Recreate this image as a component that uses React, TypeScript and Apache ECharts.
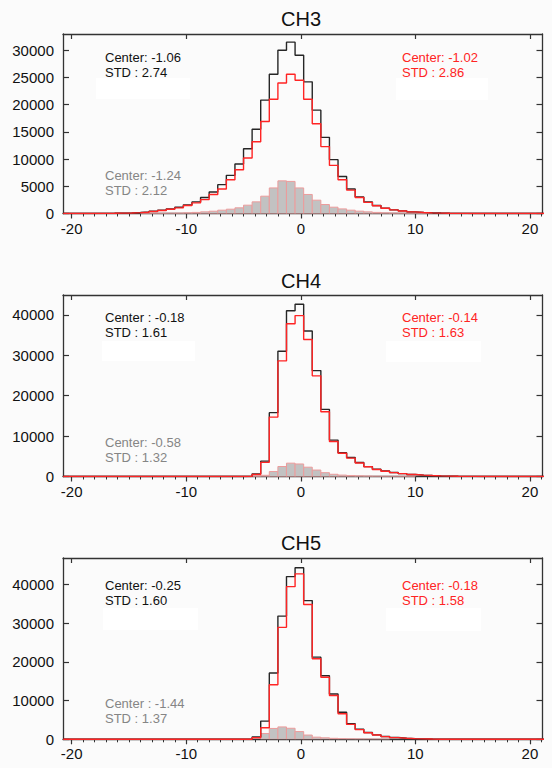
import React, { useEffect, useRef } from "react";
import * as echarts from "echarts";

// Histogram bins: left edge of first bin and bin width (x units)
const binStart = -20.75;
const binWidth = 0.75;

const channels = ["CH3", "CH4", "CH5"];

// CH3
const ch3Black = [
  0, 5, 10, 15, 25, 40, 70, 110, 180, 300,
  430, 610, 850, 1160, 1590, 2130, 2930, 3960, 5300, 7010,
  9090, 11900, 15500, 20850, 25600, 30000, 31500, 29100, 24200, 19000,
  14000, 9900, 6800, 4500, 3050, 2130, 1460, 980, 670, 490,
  300, 200, 130, 80, 50, 30, 20, 10, 5, 5,
  0, 0, 0, 0, 0, 0,
];
const ch3Red = [
  0, 0, 5, 10, 20, 35, 60, 100, 160, 240,
  370, 550, 790, 1040, 1460, 1950, 2560, 3480, 4500, 6200,
  8050, 10200, 13200, 16900, 21000, 24000, 25600, 24500, 21000, 16500,
  12300, 8840, 6200, 4300, 2950, 2050, 1420, 960, 660, 470,
  300, 190, 120, 75, 45, 25, 15, 10, 5, 0,
  0, 0, 0, 0, 0, 0,
];
const ch3Gray = [
  0, 0, 0, 0, 0, 0, 0, 0, 0, 10,
  20, 30, 50, 80, 130, 200, 300, 420, 610, 790,
  1040, 1530, 2140, 3180, 4700, 6000, 5900, 4700, 3500, 2450,
  1650, 1160, 850, 610, 430, 300, 200, 130, 80, 50,
  30, 20, 10, 0, 0, 0, 0, 0, 0, 0,
  0, 0, 0, 0, 0, 0,
];

// CH4
const ch4Black = [
  0, 0, 0, 0, 0, 0, 0, 0, 0, 0,
  0, 0, 0, 0, 0, 0, 0, 0, 0, 0,
  0, 30, 650, 3800, 15800, 31000, 41000, 42600, 36000, 26200,
  16600, 9000, 5900, 4700, 3450, 2450, 1800, 1350, 980, 720,
  500, 340, 240, 160, 100, 60, 40, 20, 10, 5,
  0, 0, 0, 0, 0, 0,
];
const ch4Red = [
  0, 0, 0, 0, 0, 0, 0, 0, 0, 0,
  0, 0, 0, 0, 0, 0, 0, 0, 0, 0,
  0, 20, 500, 3500, 14700, 28600, 37800, 39800, 33900, 24900,
  16000, 8650, 5750, 4550, 3350, 2400, 1750, 1300, 950, 700,
  490, 330, 230, 150, 100, 60, 40, 20, 10, 5,
  0, 0, 0, 0, 0, 0,
];
const ch4Gray = [
  0, 0, 0, 0, 0, 0, 0, 0, 0, 0,
  0, 0, 0, 0, 0, 0, 0, 0, 0, 0,
  0, 0, 50, 300, 1230, 2470, 3300, 3100, 2300, 1600,
  950, 550, 350, 250, 180, 120, 80, 50, 30, 20,
  10, 0, 0, 0, 0, 0, 0, 0, 0, 0,
  0, 0, 0, 0, 0, 0,
];

// CH5
const ch5Black = [
  0, 0, 0, 0, 0, 0, 0, 0, 0, 0,
  0, 0, 0, 0, 0, 0, 0, 0, 0, 0,
  0, 30, 600, 4700, 17100, 31800, 42000, 44300, 35800, 21200,
  16400, 11700, 7000, 4000, 2600, 1750, 1150, 720, 450, 280,
  180, 100, 60, 30, 10, 0, 0, 0, 0, 0,
  0, 0, 0, 0, 0, 0,
];
const ch5Red = [
  0, 0, 0, 0, 0, 0, 0, 0, 0, 0,
  0, 0, 0, 0, 0, 0, 0, 0, 0, 0,
  0, 20, 400, 3000, 14100, 28900, 39400, 42700, 34800, 20800,
  16000, 11300, 6600, 3850, 2500, 1700, 1100, 700, 430, 270,
  170, 100, 60, 30, 10, 0, 0, 0, 0, 0,
  0, 0, 0, 0, 0, 0,
];
const ch5Gray = [
  0, 0, 0, 0, 0, 0, 0, 0, 0, 0,
  0, 0, 0, 0, 0, 0, 0, 0, 0, 0,
  0, 0, 0, 1500, 2800, 3200, 2850, 2000, 1100, 550,
  380, 250, 170, 110, 70, 40, 20, 10, 0, 0,
  0, 0, 0, 0, 0, 0, 0, 0, 0, 0,
  0, 0, 0, 0, 0, 0,
];

const blackSeries = [ch3Black, ch4Black, ch5Black];
const redSeries = [ch3Red, ch4Red, ch5Red];
const graySeries = [ch3Gray, ch4Gray, ch5Gray];

const yMaxes = [33000, 44900, 46800];
const yTicks = [
  [0, 5000, 10000, 15000, 20000, 25000, 30000],
  [0, 10000, 20000, 30000, 40000],
  [0, 10000, 20000, 30000, 40000],
];
const xMajorTicks = [-20, -10, 0, 10, 20];
const xMin = -20.76;
const xMax = 21.1;

const blackStats = [
  ["Center: -1.06", "STD : 2.74"],
  ["Center : -0.18", "STD : 1.61"],
  ["Center: -0.25", "STD : 1.60"],
];
const redStats = [
  ["Center: -1.02", "STD : 2.86"],
  ["Center: -0.14", "STD : 1.63"],
  ["Center: -0.18", "STD : 1.58"],
];
const grayStats = [
  ["Center: -1.24", "STD : 2.12"],
  ["Center: -0.58", "STD : 1.32"],
  ["Center : -1.44", "STD : 1.37"],
];

// layout (pixels)
const gridLeft = 63;
const gridRight = 9.5;
const gridTops = [34, 295, 558];
const gridHeights = [179.5, 181.5, 181.3];
const titleY = [19, 281, 543];
const statLine1Y = [57, 317, 585];
const grayLine1Y = [175, 442, 703];
const lineGap = 15.5;
const whiteBoxes = [
  [96, 78, 94, 21], [396, 78, 92, 22],
  [102, 341, 93, 20], [386, 341, 95, 21],
  [103, 608, 95, 22], [386, 608, 95, 23],
];

const FONT = "'Liberation Sans', Arial, Helvetica, sans-serif";
const AXIS_COLOR = "#333333";
const BLACK = "#262626";
const RED = "#ff2424";
const GRAY_TEXT = "#858585";

function stepData(vals: number[]) {
  const out: number[][] = [];
  for (let i = 0; i < vals.length; i++) out.push([binStart + i * binWidth, vals[i]]);
  out.push([binStart + vals.length * binWidth, vals[vals.length - 1]]);
  return out;
}

function barData(vals: number[]) {
  const out: number[][] = [];
  for (let i = 0; i < vals.length; i++) {
    if (vals[i] > 0) out.push([binStart + i * binWidth, binStart + (i + 1) * binWidth, vals[i]]);
  }
  return out;
}

export default function App() {
  const ref = useRef<HTMLDivElement>(null);

  useEffect(() => {
    if (!ref.current) return;
    const chart = echarts.init(ref.current, null, { renderer: "svg" });

    const minorTicks: number[] = [];
    for (let v = -20; v <= 21; v++) if (v % 10 !== 0) minorTicks.push(v);

    const grids: any[] = [];
    const xAxes: any[] = [];
    const yAxes: any[] = [];
    const series: any[] = [];
    const graphics: any[] = [];
    const plain = (v: number) => String(Math.round(v));

    for (let p = 0; p < 3; p++) {
      grids.push({ left: gridLeft, right: gridRight, top: gridTops[p], height: gridHeights[p], containLabel: false });
      const axisLine = { show: true, onZero: false, lineStyle: { color: AXIS_COLOR, width: 1.3 } };
      xAxes.push({
        type: "value", gridIndex: p, position: "bottom", min: xMin, max: xMax,
        axisLine,
        axisTick: { show: true, inside: false, length: 5, customValues: xMajorTicks, lineStyle: { color: AXIS_COLOR, width: 1.2 } },
        axisLabel: { show: true, customValues: xMajorTicks, formatter: plain, fontSize: 15, color: "#111", fontFamily: FONT, margin: 7 },
        splitLine: { show: false },
      });
      xAxes.push({
        type: "value", gridIndex: p, position: "bottom", min: xMin, max: xMax,
        axisLine: { show: false },
        axisTick: { show: true, inside: false, length: 3, customValues: minorTicks, lineStyle: { color: AXIS_COLOR, width: 1 } },
        axisLabel: { show: false },
        splitLine: { show: false },
      });
      xAxes.push({
        type: "value", gridIndex: p, position: "top", min: xMin, max: xMax,
        axisLine,
        axisTick: { show: true, inside: true, length: 5, customValues: xMajorTicks, lineStyle: { color: AXIS_COLOR, width: 1.2 } },
        axisLabel: { show: false },
        splitLine: { show: false },
      });
      yAxes.push({
        type: "value", gridIndex: p, position: "left", min: 0, max: yMaxes[p],
        axisLine,
        axisTick: { show: true, inside: true, length: 6, customValues: yTicks[p], lineStyle: { color: AXIS_COLOR, width: 1.2 } },
        axisLabel: { show: true, customValues: yTicks[p], formatter: plain, fontSize: 15, color: "#111", fontFamily: FONT, margin: 9 },
        splitLine: { show: false },
      });
      yAxes.push({
        type: "value", gridIndex: p, position: "right", min: 0, max: yMaxes[p],
        axisLine,
        axisTick: { show: true, inside: true, length: 6, customValues: yTicks[p], lineStyle: { color: AXIS_COLOR, width: 1.2 } },
        axisLabel: { show: false },
        splitLine: { show: false },
      });

      series.push({
        type: "custom",
        xAxisIndex: p * 3,
        yAxisIndex: p * 2,
        data: barData(graySeries[p]),
        encode: { x: [0, 1], y: 2 },
        clip: true,
        z: 1,
        renderItem: (params: any, api: any) => {
          const a = api.coord([api.value(0), api.value(2)]);
          const b = api.coord([api.value(1), 0]);
          return {
            type: "rect",
            shape: { x: a[0], y: a[1], width: b[0] - a[0], height: b[1] - a[1] },
            style: { fill: "#c2c2c2", stroke: "#ec9c9c", lineWidth: 1 },
          };
        },
      });
      series.push({
        type: "line", xAxisIndex: p * 3, yAxisIndex: p * 2,
        data: stepData(blackSeries[p]), step: "end", showSymbol: false, symbol: "none",
        lineStyle: { color: BLACK, width: 1.4 }, itemStyle: { color: BLACK }, z: 2, clip: true,
      });
      series.push({
        type: "line", xAxisIndex: p * 3, yAxisIndex: p * 2,
        data: stepData(redSeries[p]), step: "end", showSymbol: false, symbol: "none",
        lineStyle: { color: RED, width: 1.4 }, itemStyle: { color: RED }, z: 3, clip: true,
      });

      graphics.push({
        type: "text", x: 301, y: titleY[p], z: 10,
        style: { text: channels[p], fontSize: 20, fontFamily: FONT, fill: "#111", textAlign: "center", textVerticalAlign: "middle" },
      });
      const statText = (x: number, y: number, txt: string, color: string) => ({
        type: "text", x, y, z: 10,
        style: { text: txt, fontSize: 13, fontFamily: FONT, fill: color, textAlign: "left", textVerticalAlign: "middle" },
      });
      graphics.push(statText(105, statLine1Y[p], blackStats[p][0], "#111"));
      graphics.push(statText(105, statLine1Y[p] + lineGap, blackStats[p][1], "#111"));
      graphics.push(statText(402, statLine1Y[p], redStats[p][0], RED));
      graphics.push(statText(402, statLine1Y[p] + lineGap, redStats[p][1], RED));
      graphics.push(statText(105, grayLine1Y[p], grayStats[p][0], GRAY_TEXT));
      graphics.push(statText(105, grayLine1Y[p] + lineGap, grayStats[p][1], GRAY_TEXT));
    }

    for (const b of whiteBoxes) {
      graphics.push({ type: "rect", z: 11, shape: { x: b[0], y: b[1], width: b[2], height: b[3] }, style: { fill: "#ffffff" } });
    }

    chart.setOption({
      animation: false,
      backgroundColor: "#fbfbfb",
      grid: grids,
      xAxis: xAxes,
      yAxis: yAxes,
      series,
      graphic: graphics,
    });

    return () => chart.dispose();
  }, []);

  return (
    <div
      ref={ref}
      style={{ position: "absolute", left: 0, top: 0, width: 552, height: 768 }}
    />
  );
}
